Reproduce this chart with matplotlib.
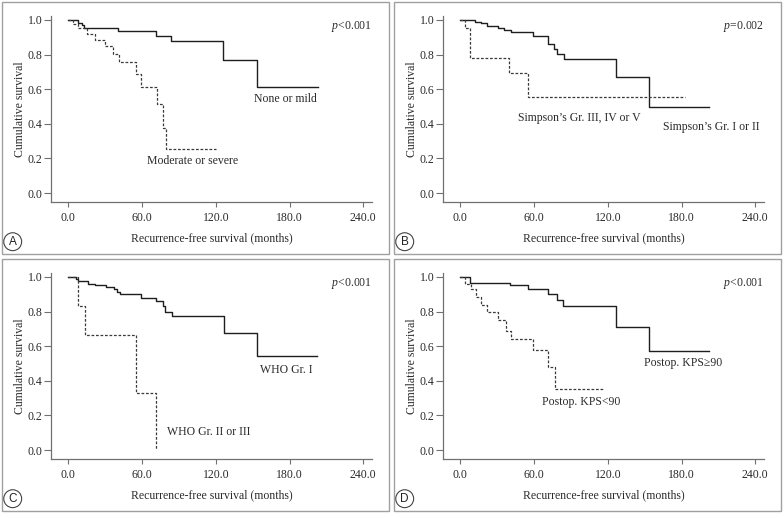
"""
Kaplan-Meier recurrence-free survival curves, four panels (A-D).
Output: out.png
"""

import matplotlib
matplotlib.use("Agg")
import matplotlib.pyplot as plt
from matplotlib.patches import Rectangle

# ---- data (months, survival after each drop) ----
A_MILD_T = [8, 11, 13, 40.7, 71.4, 83.6, 126, 153.5]
A_MILD_S = [0.985, 0.97, 0.952, 0.937, 0.907, 0.878, 0.767, 0.61]
A_MILD_END = 203

A_SEV_T = [4, 8, 15, 21.7, 29.8, 36.6, 41.5, 55, 59, 72, 77, 79.5]
A_SEV_S = [0.977, 0.952, 0.919, 0.886, 0.848, 0.803, 0.758, 0.687, 0.612, 0.513, 0.378, 0.254]
A_SEV_END = 120

B_LOW_T = [12, 17, 22, 31, 35.5, 41, 59.5, 71.5, 76.5, 79, 84, 126.6, 153.7]
B_LOW_S = [0.99, 0.98, 0.965, 0.953, 0.943, 0.929, 0.91, 0.862, 0.83, 0.803, 0.776, 0.668, 0.496]
B_LOW_END = 202.6

B_HIGH_T = [4, 8.1, 40, 54.8]
B_HIGH_S = [0.953, 0.778, 0.695, 0.552]
B_HIGH_END = 182.5

C_I_T = [6.3, 8.2, 16.3, 21.7, 31, 37, 40, 42, 59, 71.4, 76.8, 79, 84.5, 126.6, 153.7]
C_I_S = [0.99, 0.975, 0.962, 0.952, 0.94, 0.928, 0.915, 0.90, 0.88, 0.86, 0.83, 0.80, 0.777, 0.675, 0.543]
C_I_END = 202.6

C_II_T = [7.6, 13.6, 54.8, 71.2]
C_II_S = [0.835, 0.665, 0.331, 0.0]
C_II_END = 71.2

D_HI_T = [8.1, 40.7, 55, 71, 78.6, 83.5, 126.6, 153.7]
D_HI_S = [0.963, 0.952, 0.93, 0.90, 0.867, 0.831, 0.711, 0.574]
D_HI_END = 202.6

D_LO_T = [3.8, 8.7, 12.8, 16.8, 22, 30.7, 37.4, 41.5, 59.2, 71.4, 76.8]
D_LO_S = [0.962, 0.929, 0.884, 0.839, 0.797, 0.752, 0.69, 0.642, 0.576, 0.479, 0.355]
D_LO_END = 117

X_TICKS = [0, 60, 120, 180, 240]
Y_TICKS = [0.0, 0.2, 0.4, 0.6, 0.8, 1.0]

PANELS = [
    dict(letter="A", p="<0.001",
         solid=(A_MILD_T, A_MILD_S, A_MILD_END), dashed=(A_SEV_T, A_SEV_S, A_SEV_END),
         labels=[("None or mild", 151, 0.543), ("Moderate or severe", 64, 0.185)]),
    dict(letter="B", p="=0.002",
         solid=(B_LOW_T, B_LOW_S, B_LOW_END), dashed=(B_HIGH_T, B_HIGH_S, B_HIGH_END),
         labels=[("Simpson\u2019s Gr. III, IV or V", 47, 0.434), ("Simpson\u2019s Gr. I or II", 165, 0.382)]),
    dict(letter="C", p="<0.001",
         solid=(C_I_T, C_I_S, C_I_END), dashed=(C_II_T, C_II_S, C_II_END),
         labels=[("WHO Gr. I", 156, 0.464), ("WHO Gr. II or III", 80.3, 0.104)]),
    dict(letter="D", p="<0.001",
         solid=(D_HI_T, D_HI_S, D_HI_END), dashed=(D_LO_T, D_LO_S, D_LO_END),
         labels=[("Postop. KPS\u226590", 149.5, 0.503), ("Postop. KPS<90", 66.5, 0.277)]),
]

plt.rcParams["font.family"] = ["Liberation Serif", "DejaVu Serif"]
plt.rcParams["mathtext.fontset"] = "custom"
plt.rcParams["mathtext.rm"] = "Liberation Serif"
plt.rcParams["mathtext.it"] = "Liberation Serif:italic"

W, H = 784, 513
TEXT = "#2a2a2a"
FS = 8.5


def km_xy(times, surv, end):
    xs = [0] + list(times)
    ys = [1.0] + list(surv)
    if end > xs[-1]:
        xs.append(end)
        ys.append(ys[-1])
    return xs, ys


fig = plt.figure(figsize=(W / 100, H / 100), dpi=100)

for i, pnl in enumerate(PANELS):
    ox = 392 * (i % 2)
    oy = 257 * (i // 2)

    # panel frame
    fig.patches.append(Rectangle(((2 + ox) / W, 1 - (254 + oy) / H), 387 / W, 252 / H,
                                 transform=fig.transFigure, fill=False,
                                 ec="#a0a0a0", lw=1.0))

    ax = fig.add_axes([(51 + ox) / W, 1 - (202 + oy) / H, 321 / W, 186 / H])
    ax.set_xlim(-14.1, 247.1)
    ax.set_ylim(-0.052, 1.023)

    xs, ys = km_xy(*pnl["solid"])
    ax.step(xs, ys, where="post", color="#1e1e1e", lw=1.0)
    xs, ys = km_xy(*pnl["dashed"])
    ax.step(xs, ys, where="post", color="#3a3a3a", lw=0.9, linestyle=(0, (2.2, 1.4)))

    for txt, lx, ly in pnl["labels"]:
        ax.text(lx, ly, txt, ha="left", va="center", fontsize=FS, color=TEXT)

    ax.text(1.0, 0.945, "$p$" + pnl["p"], transform=ax.transAxes,
            ha="right", va="center", fontsize=FS, color=TEXT)

    for side in ("top", "right"):
        ax.spines[side].set_visible(False)
    for side in ("left", "bottom"):
        ax.spines[side].set_color("#707070")
        ax.spines[side].set_linewidth(0.9)

    ax.set_xticks(X_TICKS)
    ax.set_xticklabels([f"{v:.1f}" for v in X_TICKS])
    ax.set_yticks(Y_TICKS)
    ax.set_yticklabels([f"{v:.1f}" for v in Y_TICKS])
    ax.tick_params(axis="y", length=5, width=0.8, color="#707070", pad=1,
                   labelsize=FS, labelcolor=TEXT)
    ax.tick_params(axis="x", length=3.5, width=0.8, color="#707070", pad=4,
                   labelsize=FS, labelcolor=TEXT)
    ax.set_xlabel("Recurrence-free survival (months)", fontsize=FS, color=TEXT, labelpad=6)
    ax.set_ylabel("Cumulative survival", fontsize=FS, color=TEXT, labelpad=1.5)

    fig.text((12.7 + ox) / W, 1 - (241.7 + oy) / H, pnl["letter"],
             ha="center", va="center", fontsize=8.5, color="#222222",
             family=["Liberation Sans", "DejaVu Sans"],
             bbox=dict(boxstyle="circle,pad=0.25", fc="white", ec="#444444", lw=0.8))

fig.savefig("out.png", dpi=100)
